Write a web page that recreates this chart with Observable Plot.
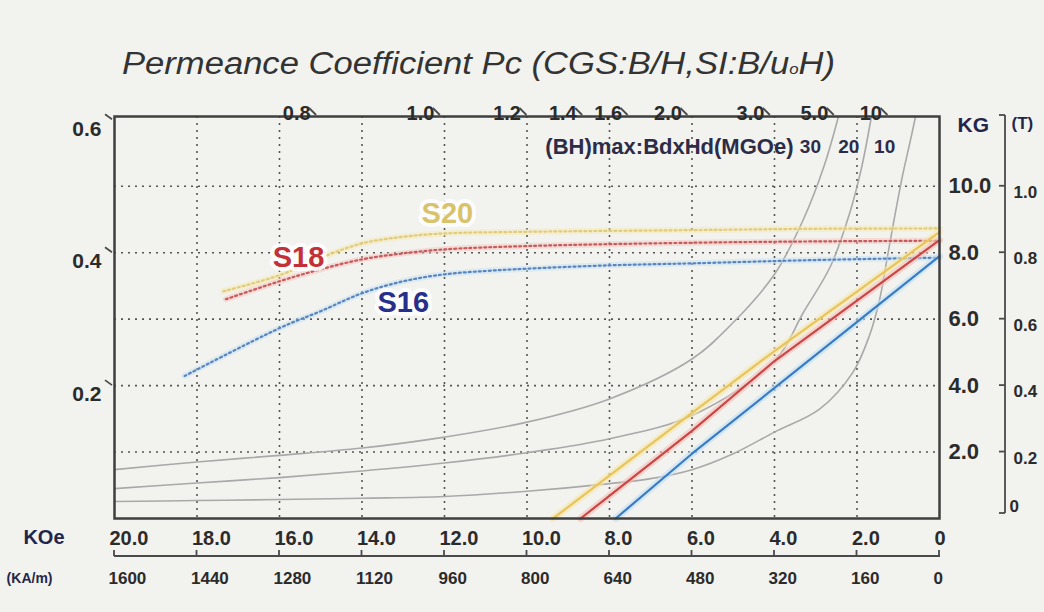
<!DOCTYPE html>
<html><head><meta charset="utf-8">
<script src="https://cdn.jsdelivr.net/npm/d3@7"></script>
<script src="https://cdn.jsdelivr.net/npm/@observablehq/plot@0.6"></script>
<style>
body{margin:0;background:#f2f2ef;font-family:"Liberation Sans",Arial,Helvetica,sans-serif;}
svg{display:block}
</style></head><body>
<svg id="title" width="1044" height="88"><text x="122" y="74" font-size="31" font-style="italic" fill="#333333" textLength="713" lengthAdjust="spacingAndGlyphs" font-family="Liberation Sans, Arial, sans-serif">Permeance Coefficient Pc (CGS:B/H,SI:B/u<tspan font-size="15">o</tspan>H)</text></svg>
<div id="chart"></div>
<script>
// ---- axis ticks & labels ----
const hTicks = [20,18,16,14,12,10,8,6,4,2,0];
const koeLabels = ["20.0","18.0","16.0","14.0","12.0","10.0","8.0","6.0","4.0","2.0","0"];
const kamLabels = ["1600","1440","1280","1120","960","800","640","480","320","160","0"];
const gridH = [18,16,14,12,10,8,6,4,2];
const kgTicks = [2,4,6,8,10];
const kgLabels = ["2.0","4.0","6.0","8.0","10.0"];
const teslaLabels = ["0.2","0.4","0.6","0.8","1.0"];
const pcTopLabels = ["0.8","1.0","1.2","1.4","1.6","2.0","3.0","5.0","10"];
const pcTopH = [15.1,12.1,10.0,8.65,7.55,6.1,4.1,2.55,1.25];
const pcLeftLabels = ["0.6","0.4","0.2"];
const pcLeftB = [12,8,4];
const bhNames = ["30","20","10"];
const bhNameH = [3.13,2.2,1.33];
const bhNameB = 11.18;

// ---- constant (BH)max curves, [H KOe, B KG] ----
const bh30 = [[20,1.47],[18,1.7],[16,1.9],[14,2.12],[12,2.45],[10,2.9],[8,3.6],[6,4.8],[5,5.9],[4,7.35],[3.3,9.0],[2.8,10.6],[2.45,12.1]];
const bh20 = [[20,0.9],[18,1.07],[16,1.23],[14,1.43],[12,1.67],[10,1.98],[8,2.4],[6,3.1],[4,4.74],[3.3,6.2],[2.64,7.6],[2.2,9.1],[1.9,10.5],[1.65,12.1]];
const bh10 = [[20,0.51],[18,0.54],[16,0.57],[14,0.61],[12,0.66],[10,0.82],[8,1.05],[7,1.2],[6,1.47],[5,1.95],[4,2.6],[2.9,3.3],[2.1,4.4],[1.7,5.5],[1.45,6.6],[1.26,7.9],[1.1,9.0],[0.9,10.3],[0.72,11.3],[0.58,12.1]];

// ---- grades: normal B-H lines and intrinsic curves ----
const series = ["S20","S18","S16"];
const s20B = [[9.37,0],[6,3.18],[4,5.04],[0,8.62]];
const s18B = [[8.7,0],[6,2.64],[4,4.74],[0,8.38]];
const s16B = [[7.85,0],[6,1.95],[4,3.93],[0,7.9]];
const s20J = [[17.36,6.84],[16,7.32],[15,7.85],[14,8.28],[13,8.48],[12,8.58],[10,8.63],[6,8.68],[3,8.72],[0,8.73]];
const s18J = [[17.3,6.6],[16,7.14],[15,7.5],[14,7.8],[13,7.98],[12,8.1],[10,8.2],[6,8.3],[3,8.34],[0,8.36]];
const s16J = [[18.3,4.29],[16,5.73],[15,6.24],[14,6.78],[13,7.14],[12,7.35],[11,7.45],[10,7.52],[8,7.62],[6,7.68],[3,7.78],[0,7.85]];
const labelH = [11.93,15.54,13.0];
const labelB = [9.17,7.85,6.49];

const lineColor = {S20:"#e8c45a", S18:"#cc4646", S16:"#3a7cc4"};
const haloColor = {S20:"#f6e6a6", S18:"#f4c0b8", S16:"#bfdff4"};
const dotColor = {S20:"#e0cc7c", S18:"#c65a5e", S16:"#5a84bd"};
const textColor = {S20:"#d8c26c", S18:"#c3303a", S16:"#272f8c"};

const toRows = (arr, id) => arr.map(([H,B]) => ({id, H, B}));
const grayRows = [...toRows(bh30,"30"), ...toRows(bh20,"20"), ...toRows(bh10,"10")];
const bRows = [...toRows(s20B,"S20"), ...toRows(s18B,"S18"), ...toRows(s16B,"S16")];
const jRows = [...toRows(s20J,"S20"), ...toRows(s18J,"S18"), ...toRows(s16J,"S16")];

const txt = {fontWeight:"bold", fill:"#2b2b2b"};

const plot = Plot.plot({
  width: 1044, height: 524,
  marginTop: 28, marginBottom: 94, marginLeft: 114, marginRight: 105,
  style: {background:"transparent", fontFamily:"Liberation Sans, Arial, sans-serif"},
  x: {domain:[20,0], axis:null},
  y: {domain:[0,12.1], axis:null},
  marks: [
    Plot.gridX(gridH, {stroke:"#555", strokeOpacity:1, strokeWidth:1.6, strokeDasharray:"2,5"}),
    Plot.gridY(kgTicks, {stroke:"#555", strokeOpacity:1, strokeWidth:1.6, strokeDasharray:"2,5"}),
    Plot.line(grayRows, {x:"H", y:"B", z:"id", stroke:"#a9a9a9", strokeWidth:1.6, curve:"catmull-rom", clip:true}),
    Plot.line(jRows, {x:"H", y:"B", z:"id", stroke: d => haloColor[d.id], strokeWidth:6, strokeOpacity:0.45, curve:"catmull-rom"}),
    Plot.line(jRows, {x:"H", y:"B", z:"id", stroke: d => dotColor[d.id], strokeWidth:2.2, strokeDasharray:"2,3", curve:"catmull-rom"}),
    Plot.line(bRows, {x:"H", y:"B", z:"id", stroke: d => haloColor[d.id], strokeWidth:7, strokeOpacity:0.6}),
    Plot.line(bRows, {x:"H", y:"B", z:"id", stroke: d => lineColor[d.id], strokeWidth:2.2}),
    Plot.frame({stroke:"#3f3f3f", strokeWidth:2.5}),
    Plot.text(series, {x:(d,i)=>labelH[i], y:(d,i)=>labelB[i], text:d=>d, fill:d=>textColor[d], fontSize:29, fontWeight:"bold", stroke:"#ffffff", strokeWidth:8, strokeOpacity:0.85, paintOrder:"stroke"}),
    Plot.text(["(BH)max:BdxHd(MGOe)"], {x:3.54, y:bhNameB, textAnchor:"end", fontSize:22, fontWeight:"bold", fill:"#2c2c48"}),
    Plot.text(bhNames, {x:(d,i)=>bhNameH[i], y:bhNameB, fontSize:19, fontWeight:"bold", fill:"#2c2c48"}),
    Plot.text(pcTopLabels, {x:(d,i)=>pcTopH[i], frameAnchor:"top", dy:-11, dx:-6, textAnchor:"end", fontSize:20, ...txt}),
    Plot.text(pcLeftLabels, {y:(d,i)=>pcLeftB[i], frameAnchor:"left", dx:-13, dy:9, textAnchor:"end", fontSize:21, ...txt}),
    Plot.text(kgLabels, {y:(d,i)=>kgTicks[i], frameAnchor:"right", dx:9, textAnchor:"start", fontSize:22, ...txt}),
    Plot.text(["KG"], {frameAnchor:"top-right", dx:18, dy:1, textAnchor:"start", fontSize:21, fontWeight:"bold", fill:"#23264a"}),
    Plot.text(["(T)"], {frameAnchor:"top-right", dx:72, dy:0, textAnchor:"start", fontSize:17, fontWeight:"bold", fill:"#23264a"}),
    Plot.text(teslaLabels, {y:(d,i)=>kgTicks[i], frameAnchor:"right", dx:74, dy:6, textAnchor:"start", fontSize:17, ...txt}),
    Plot.text(["0"], {frameAnchor:"bottom-right", dx:70, dy:-7, textAnchor:"start", fontSize:17, ...txt}),
    Plot.text(koeLabels, {x:(d,i)=>hTicks[i], frameAnchor:"bottom", dy:26, dx:-5, textAnchor:"start", fontSize:20, ...txt}),
    Plot.text(kamLabels, {x:(d,i)=>hTicks[i], frameAnchor:"bottom", dy:65, dx:-6, textAnchor:"start", fontSize:17, ...txt}),
    Plot.text(["KOe"], {frameAnchor:"bottom-left", dx:-50, dy:25, textAnchor:"end", fontSize:20, fontWeight:"bold", fill:"#23264a"}),
    Plot.text(["(KA/m)"], {frameAnchor:"bottom-left", dx:-62, dy:64, textAnchor:"end", fontSize:14, fontWeight:"bold", fill:"#23264a"})
  ]
});
document.getElementById("chart").appendChild(plot);

// ---- secondary axis decorations drawn through Plot's scales ----
const sx = plot.scale("x"), sy = plot.scale("y");
const lin = (s, v) => s.range[0] + (v - s.domain[0]) / (s.domain[1] - s.domain[0]) * (s.range[1] - s.range[0]);
const X = v => (sx.apply ? sx.apply(v) : lin(sx, v));
const Y = v => (sy.apply ? sy.apply(v) : lin(sy, v));
const svg = d3.select(plot);
const g = svg.append("g").attr("stroke", "#4a4a4a").attr("stroke-width", 1.8).attr("fill", "none");
const x0 = X(20), x1 = X(0), yTop = Y(12.1), yBot = Y(0);
// KA/m axis line with ticks
const yk = yBot + 38;
g.append("line").attr("x1", x0).attr("x2", x1 + 1).attr("y1", yk).attr("y2", yk);
hTicks.forEach(h => g.append("line").attr("x1", X(h)).attr("x2", X(h)).attr("y1", yk - 6).attr("y2", yk));
// Pc diagonal ticks on top edge
pcTopH.forEach(h => g.append("line").attr("x1", X(h) - 7).attr("y1", yTop - 8).attr("x2", X(h)).attr("y2", yTop - 1));
// Pc diagonal ticks on left edge
pcLeftB.forEach(b => g.append("line").attr("x1", x0 - 9).attr("y1", Y(b) - 5).attr("x2", x0 - 2).attr("y2", Y(b)));
// Tesla axis
const xt = x1 + 66;
g.append("line").attr("x1", xt).attr("x2", xt).attr("y1", yTop - 1).attr("y2", yBot - 5);
[Y(12.1) - 1, ...kgTicks.map(Y), yBot - 5].forEach(y => g.append("line").attr("x1", xt - 6).attr("x2", xt).attr("y1", y).attr("y2", y));
</script></body></html>
